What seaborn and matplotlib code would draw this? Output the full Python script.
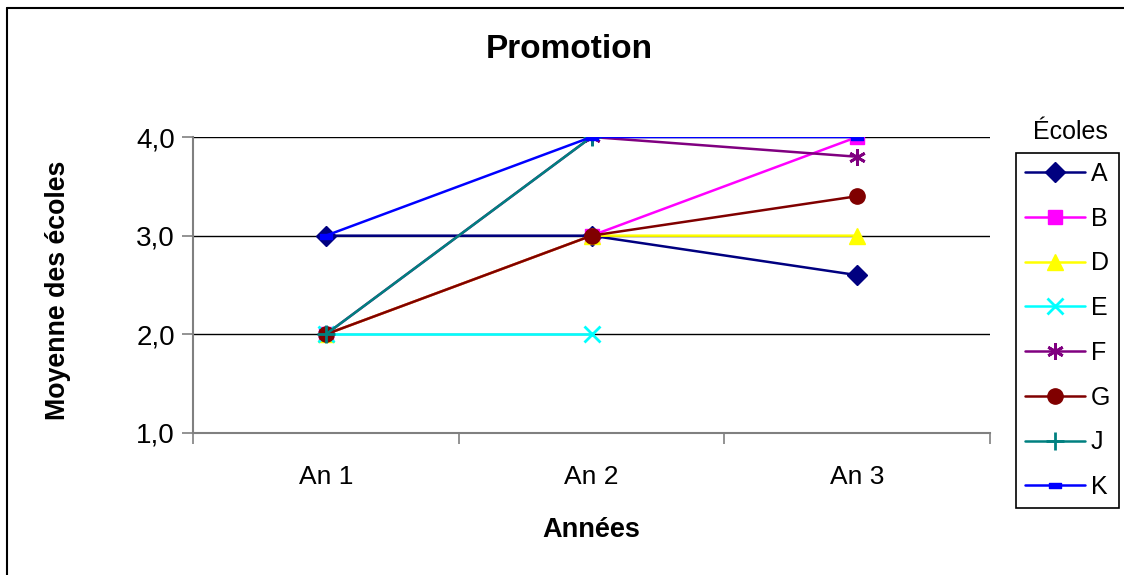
import numpy as np
import pandas as pd
import matplotlib
matplotlib.use("Agg")
import matplotlib.pyplot as plt
from matplotlib.lines import Line2D
from matplotlib.path import Path
from matplotlib.ticker import FixedLocator, FuncFormatter
import seaborn as sns

# Data
years = ["An 1", "An 2", "An 3"]
schools = ["A", "B", "D", "E", "F", "G", "J", "K"]
score_A = [3.0, 3.0, 2.6]
score_B = [2.0, 3.0, 4.0]
score_D = [2.0, 3.0, 3.0]
score_E = [2.0, 2.0, np.nan]
score_F = [2.0, 4.0, 3.8]
score_G = [2.0, 3.0, 3.4]
score_J = [2.0, 4.0, np.nan]
score_K = [3.0, 4.0, 4.0]
yticks = [1.0, 2.0, 3.0, 4.0]

series = [score_A, score_B, score_D, score_E, score_F, score_G, score_J, score_K]

rows = []
for name, vals in zip(schools, series):
    for i, (yr, v) in enumerate(zip(years, vals)):
        rows.append({"École": name, "pos": i, "Année": yr, "Moyenne": v})
df = pd.DataFrame(rows)

# Excel-like palette and markers
colors = {"A": "#000080", "B": "#FF00FF", "D": "#FFFF00", "E": "#00FFFF",
          "F": "#800080", "G": "#800000", "J": "#008080", "K": "#0000FF"}
bar = Path([(-1, -0.45), (1, -0.45), (1, 0.45), (-1, 0.45), (-1, -0.45)],
           [Path.MOVETO, Path.LINETO, Path.LINETO, Path.LINETO, Path.CLOSEPOLY])
markers = {"A": "D", "B": "s", "D": "^", "E": "x", "F": (6, 2, 0),
           "G": "o", "J": "+", "K": bar}
msize = {"A": 10, "B": 10, "D": 11, "E": 12, "F": 12, "G": 11, "J": 13, "K": 8}
medge = {"E": 2, "F": 2, "J": 2}
line_w = 1.8

sns.set_theme(style="white")
plt.rcParams["font.family"] = ["Liberation Sans", "DejaVu Sans"]
plt.rcParams.update({"text.color": "black", "axes.labelcolor": "black",
                     "xtick.color": "black", "ytick.color": "black"})

fig = plt.figure(figsize=(11.24, 5.75), dpi=100)
ax = fig.add_axes([193 / 1124, 1 - 433 / 575, 797 / 1124, 296 / 575])

# horizontal gridlines
for yv in yticks[1:]:
    ax.axhline(yv, color="black", lw=1.0, zorder=0)

for name in schools:
    sub = df[df["École"] == name].dropna()
    sns.lineplot(data=sub, x="pos", y="Moyenne", ax=ax, color=colors[name],
                 marker=markers[name], markersize=msize[name],
                 markeredgecolor=colors[name], markerfacecolor=colors[name],
                 markeredgewidth=medge.get(name, 1),
                 lw=line_w, label=name, sort=False, legend=False)

ax.set_xlim(-0.5, 2.5)
ax.set_ylim(1.0, 4.0)

# category labels centred, tick marks between categories
ax.xaxis.set_major_locator(FixedLocator([0, 1, 2]))
ax.set_xticklabels(years)
ax.xaxis.set_minor_locator(FixedLocator([-0.5, 0.5, 1.5, 2.5]))
ax.tick_params(axis="x", which="major", length=0, pad=23, labelsize=19)
ax.tick_params(axis="x", which="minor", length=8, width=1.2, color="#808080",
               direction="out", bottom=True)
ax.set_yticks(yticks)
ax.yaxis.set_major_formatter(FuncFormatter(lambda v, p: f"{v:.1f}".replace(".", ",")))
ax.tick_params(axis="y", length=8, width=1.2, color="#808080", direction="out",
               left=True, pad=5, labelsize=20)

for s in ["top", "right"]:
    ax.spines[s].set_visible(False)
for s in ["left", "bottom"]:
    ax.spines[s].set_color("#808080")
    ax.spines[s].set_linewidth(1.5)

ax.set_xlabel("Années", fontsize=19.5, fontweight="bold")
ax.xaxis.set_label_coords(0.5, -0.284)
ax.set_ylabel("Moyenne des écoles", fontsize=19.3, fontweight="bold")
ax.yaxis.set_label_coords(-0.153, 0.483)

fig.text(569 / 1124, 1 - 49 / 575, "Promotion", ha="center", va="center",
         fontsize=24, fontweight="bold")

# legend
handles = [Line2D([0], [0], color=colors[n], lw=line_w, marker=markers[n],
                  markersize=msize[n], markeredgecolor=colors[n],
                  markerfacecolor=colors[n], markeredgewidth=medge.get(n, 1))
           for n in schools]
leg = fig.legend(handles, schools, loc="upper left",
                 bbox_to_anchor=(1016 / 1124, 1 - 153 / 575), borderaxespad=0,
                 frameon=True, fancybox=False, edgecolor="black", framealpha=1,
                 fontsize=18, handlelength=2.4, labelspacing=0.83,
                 handletextpad=0.25, borderpad=0.35)
leg.get_frame().set_linewidth(1.2)
fig.text(1070 / 1124, 1 - 132 / 575, "Écoles", ha="center", va="center", fontsize=18)

# outer chart border
fig.add_artist(Line2D([7 / 1124, 7 / 1124], [0, 1 - 8 / 575], color="black", lw=1.5,
                      transform=fig.transFigure))
fig.add_artist(Line2D([7 / 1124, 1], [1 - 8 / 575, 1 - 8 / 575], color="black", lw=1.5,
                      transform=fig.transFigure))

fig.savefig("out.png", dpi=100)
